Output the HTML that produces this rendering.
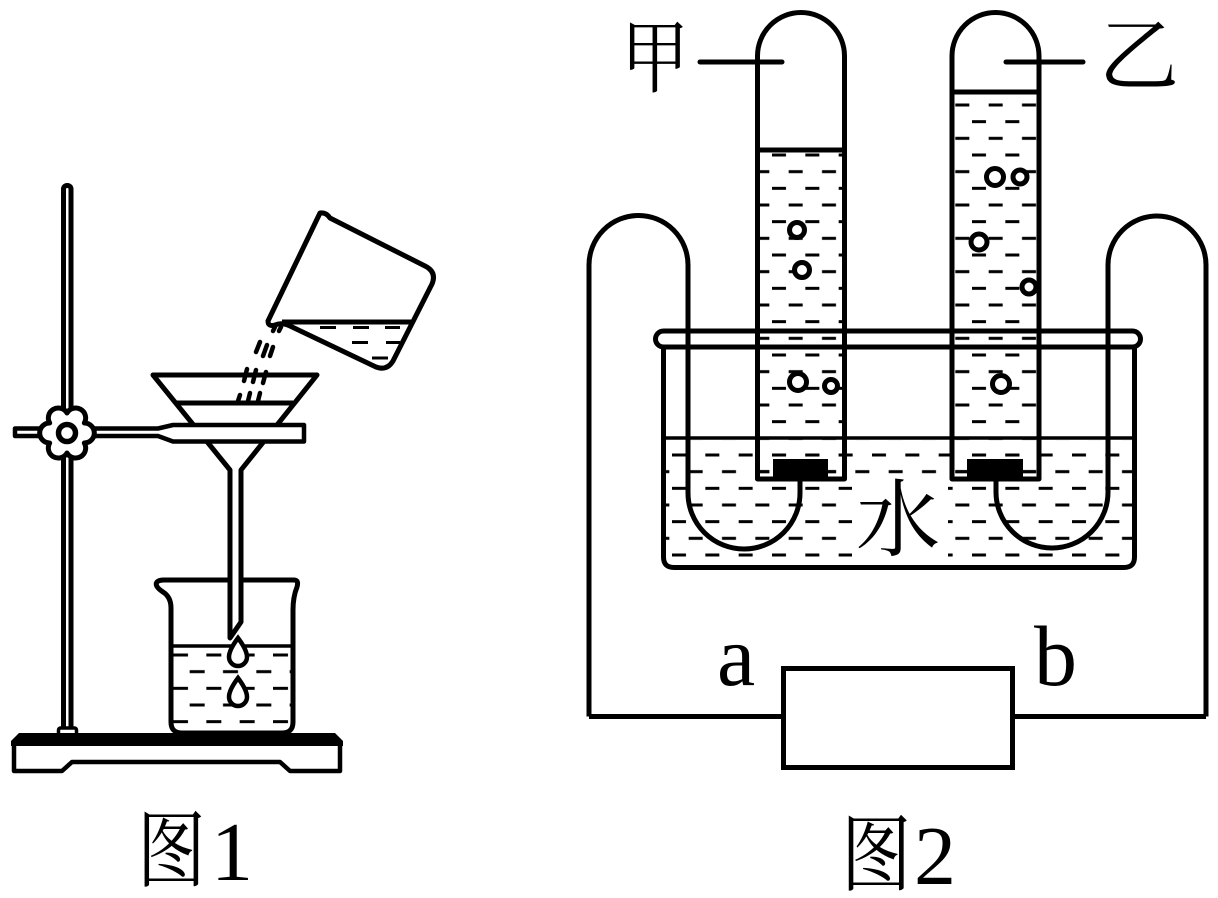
<!DOCTYPE html>
<html>
<head>
<meta charset="utf-8">
<style>
  html,body{margin:0;padding:0;background:#fff;}
  svg{display:block;}
  .cjk{font-family:"Liberation Serif","Noto Serif CJK SC",serif;}
  .lat{font-family:"Liberation Serif",serif;}
</style>
</head>
<body>
<svg width="1218" height="898" viewBox="0 0 1218 898" xmlns="http://www.w3.org/2000/svg">
  <defs>
    <pattern id="w" patternUnits="userSpaceOnUse" x="772" y="153.5" width="33.333" height="33.333">
      <rect x="0" y="0" width="14" height="3" fill="#000"/>
      <rect x="16.667" y="16.667" width="14" height="3" fill="#000"/>
    </pattern>
    <pattern id="w2" patternUnits="userSpaceOnUse" x="173" y="653.5" width="33.333" height="33.333">
      <rect x="0" y="0" width="15" height="3" fill="#000"/>
      <rect x="16.667" y="16.667" width="15" height="3" fill="#000"/>
    </pattern>
  </defs>
  <rect width="1218" height="898" fill="#fff"/>

  <!-- ================= FIGURE 1 ================= -->
  <g fill="none" stroke="#000" stroke-width="5" stroke-linejoin="round" stroke-linecap="round">
    <rect x="63.5" y="185.5" width="7.5" height="544" rx="3.5" fill="#fff"/>
    <rect x="58.5" y="728" width="18" height="7" rx="2" fill="#fff" stroke-width="3.5"/>
    <path d="M14,744 V771 H62 L72,762 H280 L290,771 H340 V744" stroke-width="4.5"/>
  </g>
  <path d="M11,741 L19,733 H335 L343,741 V746 H11 Z" fill="#000"/>

  <!-- receiving beaker -->
  <path d="M171,722 V608 Q171,597 163,592 Q154,586 157,582 Q159,580 164,580 H294 Q299,580 297,587 Q293,597 293,610 V722 Q293,733 282,733 H182 Q171,733 171,722 Z" fill="#fff" stroke="#000" stroke-width="5" stroke-linejoin="round"/>
  <rect x="173" y="648" width="118" height="78" fill="url(#w2)"/>
  <line x1="171" y1="646" x2="293" y2="646" stroke="#000" stroke-width="3.5"/>

  <!-- funnel -->
  <path d="M153,375 H317 L241,470 V622 L230,638 V470 Z" fill="#fff" stroke="#000" stroke-width="5" stroke-linejoin="round"/>
  <line x1="177" y1="403" x2="293" y2="403" stroke="#000" stroke-width="5"/>

  <!-- drops in receiving beaker -->
  <g fill="#fff" stroke="#000" stroke-width="4.5">
    <path d="M238,638 C244,646 247,652 247,657 A9,9 0 0 1 229,657 C229,652 232,646 238,638 Z"/>
    <path d="M238,678 C244,686 247,692 247,697 A9,9 0 0 1 229,697 C229,692 232,686 238,678 Z"/>
  </g>

  <!-- clamp bar -->
  <path d="M15,428.5 H158 L173,425 H304 V441.5 H173 L158,436 H15 Z" fill="#fff" stroke="#000" stroke-width="4.5" stroke-linejoin="round"/>
  <!-- knob (6 lobes, shallow valleys) -->
  <path d="M84.32,423 A7.6,7.6 0 1 1 84.32,443 A7.6,7.6 0 1 1 67,453 A7.6,7.6 0 1 1 49.68,443 A7.6,7.6 0 1 1 49.68,423 A7.6,7.6 0 1 1 67,413 A7.6,7.6 0 1 1 84.32,423 Z" fill="#fff" stroke="#000" stroke-width="5" stroke-linejoin="round"/>
  <circle cx="67" cy="433" r="8.5" fill="#fff" stroke="#000" stroke-width="5.5"/>

  <!-- pouring beaker -->
  <path d="M320,213 Q326,212 330,218 L425,266 Q437,272 432,284 L393,361 Q387,371 376,367 L290,326 Q282,322 275,325 Q268,327 268,321 L320,213 Z" fill="#fff" stroke="#000" stroke-width="5" stroke-linejoin="round"/>
  <line x1="282" y1="322" x2="411" y2="322" stroke="#000" stroke-width="5"/>
  <g stroke="#000" stroke-width="3">
    <line x1="320" y1="327.5" x2="336" y2="327.5"/>
    <line x1="353" y1="327.5" x2="369" y2="327.5"/>
    <line x1="385" y1="327.5" x2="400" y2="327.5"/>
    <line x1="352" y1="342.5" x2="368" y2="342.5"/>
    <line x1="386" y1="342.5" x2="400" y2="342.5"/>
    <line x1="372" y1="358" x2="388" y2="358"/>
  </g>
  <g stroke="#000" stroke-width="4.5" stroke-linecap="round" fill="none">
    <line x1="275" y1="327" x2="273" y2="331"/>
    <line x1="281" y1="327" x2="279" y2="331"/>
    <line x1="260" y1="342" x2="256" y2="352"/>
    <line x1="267" y1="345" x2="263" y2="356"/>
    <line x1="273" y1="347" x2="270" y2="356"/>
    <line x1="247" y1="369" x2="244" y2="381"/>
    <line x1="256" y1="370" x2="253" y2="382"/>
    <line x1="266" y1="372" x2="263" y2="383"/>
    <line x1="240" y1="395" x2="238" y2="401"/>
    <line x1="250" y1="393" x2="248" y2="401"/>
    <line x1="260" y1="393" x2="258" y2="401"/>
  </g>

  <text class="cjk" font-size="84" transform="translate(137,880) scale(0.82,1)">图</text>
  <text class="lat" font-size="84" x="211" y="880">1</text>

  <!-- ================= FIGURE 2 ================= -->
  <rect x="664" y="440" width="470" height="125" fill="url(#w)"/>
  <rect x="757.5" y="152.5" width="87" height="325" fill="url(#w)"/>
  <rect x="952" y="94.5" width="87" height="383" fill="url(#w)"/>
  <!-- white patch behind 水 -->
  <rect x="852" y="480" width="96" height="83" fill="#fff"/>

  <line x1="663.5" y1="438" x2="1134.5" y2="438" stroke="#000" stroke-width="3.5"/>
  <g fill="none" stroke="#000" stroke-width="5" stroke-linejoin="round">
    <rect x="655.5" y="331" width="485" height="16" rx="8"/>
    <path d="M663.5,347 V557 Q663.5,567.5 674,567.5 H1124 Q1134.5,567.5 1134.5,557 V347"/>
  </g>

  <g fill="none" stroke="#000" stroke-width="5" stroke-linejoin="round">
    <path d="M589,716.5 V265 A49.5,49.5 0 0 1 688,265 V493 A56,56 0 0 0 800,493 V478"/>
    <path d="M1206,716.5 V265 A49,49 0 0 0 1108,265 V492 A56,56 0 0 1 996,492 V478"/>
    <path d="M589,716.5 H783"/>
    <path d="M1012,716.5 H1206"/>
  </g>

  <g fill="none" stroke="#000" stroke-width="5" stroke-linejoin="round">
    <path d="M757.5,479 V56 A43.5,43.5 0 0 1 844.5,56 V479 Z"/>
    <path d="M952,479 V56 A43.5,43.5 0 0 1 1039,56 V479 Z"/>
    <line x1="757.5" y1="150" x2="844.5" y2="150"/>
    <line x1="952" y1="92" x2="1039" y2="92"/>
  </g>
  <rect x="773" y="459" width="55" height="19" fill="#000"/>
  <rect x="967" y="459" width="56" height="19" fill="#000"/>

  <g fill="#fff" stroke="#000" stroke-width="5">
    <circle cx="797" cy="230" r="7.5"/>
    <circle cx="802" cy="270" r="7.5"/>
    <circle cx="798" cy="382" r="8.5"/>
    <circle cx="831" cy="386" r="6.5"/>
    <circle cx="995" cy="177" r="8.5"/>
    <circle cx="1020" cy="177" r="7"/>
    <circle cx="979" cy="242" r="8"/>
    <circle cx="1029" cy="287" r="7"/>
    <circle cx="1001" cy="384" r="8.5"/>
  </g>

  <g stroke="#000" stroke-width="5" stroke-linecap="round">
    <line x1="700" y1="62" x2="782" y2="62"/>
    <line x1="1006" y1="62" x2="1083" y2="62"/>
  </g>
  <text class="cjk" font-size="80" transform="translate(621,86) scale(0.85,1)">甲</text>
  <text class="cjk" font-size="80" transform="translate(1099,84)">乙</text>
  <text class="cjk" font-size="84" transform="translate(856,549)">水</text>

  <rect x="783.5" y="668.5" width="229" height="99" fill="#fff" stroke="#000" stroke-width="5"/>
  <text class="lat" font-size="86" x="717" y="685">a</text>
  <text class="lat" font-size="86" x="1034" y="685">b</text>

  <text class="cjk" font-size="84" transform="translate(841,884) scale(0.84,1)">图</text>
  <text class="lat" font-size="84" x="914" y="884">2</text>
</svg>
</body>
</html>
